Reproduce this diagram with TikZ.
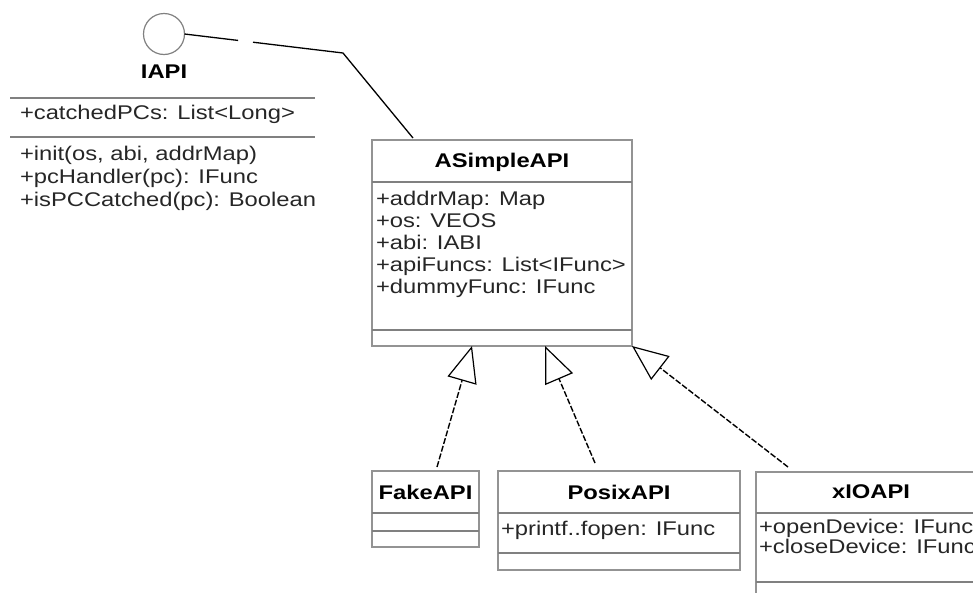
\documentclass[tikz,border=0pt]{standalone}
\usepackage{fontspec}
\setmainfont{Liberation Sans}[FakeStretch=1.2]
\usetikzlibrary{arrows.meta,calc}

\begin{document}
\begin{tikzpicture}[x=1pt,y=-1pt,
  every node/.style={inner sep=0pt, outer sep=0pt, font=\fontsize{19.8}{22}\selectfont},
  classbox/.style={draw=gray!85, line width=1.6pt, anchor=north west},
  sepline/.style={draw=gray, line width=2.8pt},
  cname/.style={font=\fontsize{19.8}{22}\selectfont\bfseries, text=black},
  member/.style={anchor=mid west, text=black!85},
  realize/.style={draw=black, line width=1.4pt, dash pattern=on 6pt off 2pt,
    -{Triangle[open, length=36pt, width=30pt, line width=1.2pt]}},
  lollilink/.style={draw=black, line width=1.3pt, dash pattern=on 54pt off 15pt on 400pt off 1pt},
]
\useasboundingbox (0,0) rectangle (973,592);
\clip (0,0) rectangle (973,592);

% interface IAPI (lollipop notation)
\node[circle, draw=gray, line width=1.2pt, minimum size=41pt] (ball) at (164,34) {};
\node[cname] (iapi) at (164,72) {IAPI};
\draw[sepline] (10,98) -- (315,98);
\node[member] (iapiA) at (20,117) {+catchedPCs: List<Long>};
\draw[sepline] (10,137) -- (315,137);
\node[member] (iapiM1) at (20,158) {+init(os, abi, addrMap)};
\node[member] (iapiM2) at (20,181) {+pcHandler(pc): IFunc};
\node[member] (iapiM3) at (20,204) {+isPCCatched(pc): Boolean};

% abstract base class
\node[classbox, minimum width=260pt, minimum height=206pt] (asimple) at (372,140) {};
\node[cname] (asimpleT) at (502,162) {ASimpleAPI};
\draw[sepline] ($(asimple.north west)+(0,42)$) -- ($(asimple.north east)+(0,42)$);
\node[member] (a1) at (376,203) {+addrMap: Map};
\node[member] (a2) at (376,225) {+os: VEOS};
\node[member] (a3) at (376,247) {+abi: IABI};
\node[member] (a4) at (376,269) {+apiFuncs: List<IFunc>};
\node[member] (a5) at (376,291) {+dummyFunc: IFunc};
\draw[sepline] ($(asimple.north west)+(0,190)$) -- ($(asimple.north east)+(0,190)$);

% concrete implementations
\node[classbox, minimum width=107pt, minimum height=76pt] (fake) at (372,471) {};
\node[cname] (fakeT) at (425.5,492) {FakeAPI};
\draw[sepline] ($(fake.north west)+(0,42)$) -- ($(fake.north east)+(0,42)$);
\draw[sepline] ($(fake.north west)+(0,60)$) -- ($(fake.north east)+(0,60)$);

\node[classbox, minimum width=242pt, minimum height=99pt] (posix) at (498,471) {};
\node[cname] (posixT) at (619,492) {PosixAPI};
\draw[sepline] ($(posix.north west)+(0,42)$) -- ($(posix.north east)+(0,42)$);
\node[member] (p1) at (501,533) {+printf..fopen: IFunc};
\draw[sepline] ($(posix.north west)+(0,82)$) -- ($(posix.north east)+(0,82)$);

\node[classbox, minimum width=230pt, minimum height=160pt] (xio) at (756,472) {};
\node[cname] (xioT) at (871,492) {xIOAPI};
\draw[sepline] ($(xio.north west)+(0,41)$) -- ($(xio.north east)+(0,41)$);
\node[member] (x1) at (759,531) {+openDevice: IFunc};
\node[member] (x2) at (759,551) {+closeDevice: IFunc};
\draw[sepline] ($(xio.north west)+(0,110)$) -- ($(xio.north east)+(0,110)$);

% interface link
\coordinate (bend) at (343,53);
\draw[lollilink] (ball.east) -- (bend) -- ($(asimple.north west)+(41,-2)$);

% realization arrows
\draw[realize] ($(fake.north west)+(65,-4)$) -- ($(asimple.south west)+(100,0)$);
\draw[realize] ($(posix.north west)+(97,-8)$) -- ($(asimple.south west)+(173,0)$);
\draw[realize] ($(xio.north west)+(32,-5)$) -- (asimple.south east);
\end{tikzpicture}
\end{document}
